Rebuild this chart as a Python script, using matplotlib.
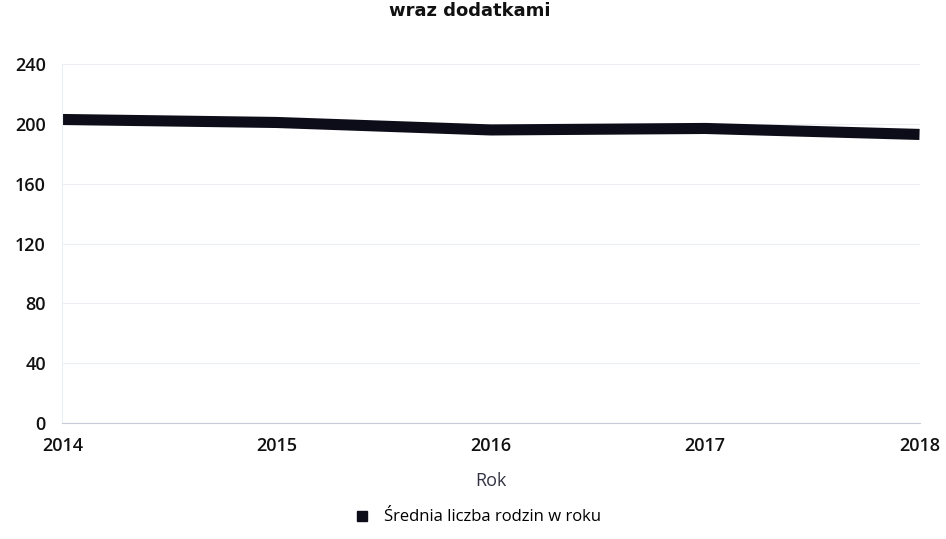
import matplotlib
matplotlib.use("Agg")
import matplotlib.pyplot as plt
from matplotlib.lines import Line2D

years = [2014, 2015, 2016, 2017, 2018]
values = [203, 201, 196, 197, 193]
y_ticks = [0, 40, 80, 120, 160, 200, 240]
series_name = "Średnia liczba rodzin w roku"
x_label = "Rok"
title_text = "wraz dodatkami"

plt.rcParams['font.family'] = ['Open Sans', 'DejaVu Sans']

fig = plt.figure(figsize=(9.46, 5.39), dpi=100)
ax = fig.add_axes([0.066, 0.215, 0.906, 0.666])

ax.plot(years, values, color='#0d0d1a', linewidth=8, solid_capstyle='butt')

ax.set_xlim(years[0], years[-1])
ax.set_ylim(0, 240)
ax.set_yticks(y_ticks)
ax.set_xticks(years)
ax.set_xticklabels([str(y) for y in years])
ax.grid(axis='y', color='#eceef4', linewidth=0.8)
ax.grid(axis='x', visible=False)
for s in ['top', 'right']:
    ax.spines[s].set_visible(False)
ax.spines['left'].set_color('#eceef4')
ax.spines['bottom'].set_color('#c8cad8')
ax.tick_params(axis='both', length=0, labelsize=13, colors='#111111')
ax.tick_params(axis='y', pad=12)
ax.tick_params(axis='x', pad=10)
for lbl in ax.get_xticklabels() + ax.get_yticklabels():
    lbl.set_fontweight('semibold')
ax.set_xlabel(x_label, fontsize=13, color='#333344', labelpad=12)

handle = Line2D([], [], color='#0d0d1a', marker='s', linestyle='none', markersize=7)
fig.legend([handle], [series_name], loc='center', bbox_to_anchor=(0.5, 0.04),
           frameon=False, fontsize=12, handletextpad=0.3)

fig.text(0.497, 0.997, title_text, ha='center', va='top', fontsize=13,
         fontweight='bold', family='DejaVu Sans', color='#111111')

fig.savefig('out.png', dpi=100, facecolor='white')
